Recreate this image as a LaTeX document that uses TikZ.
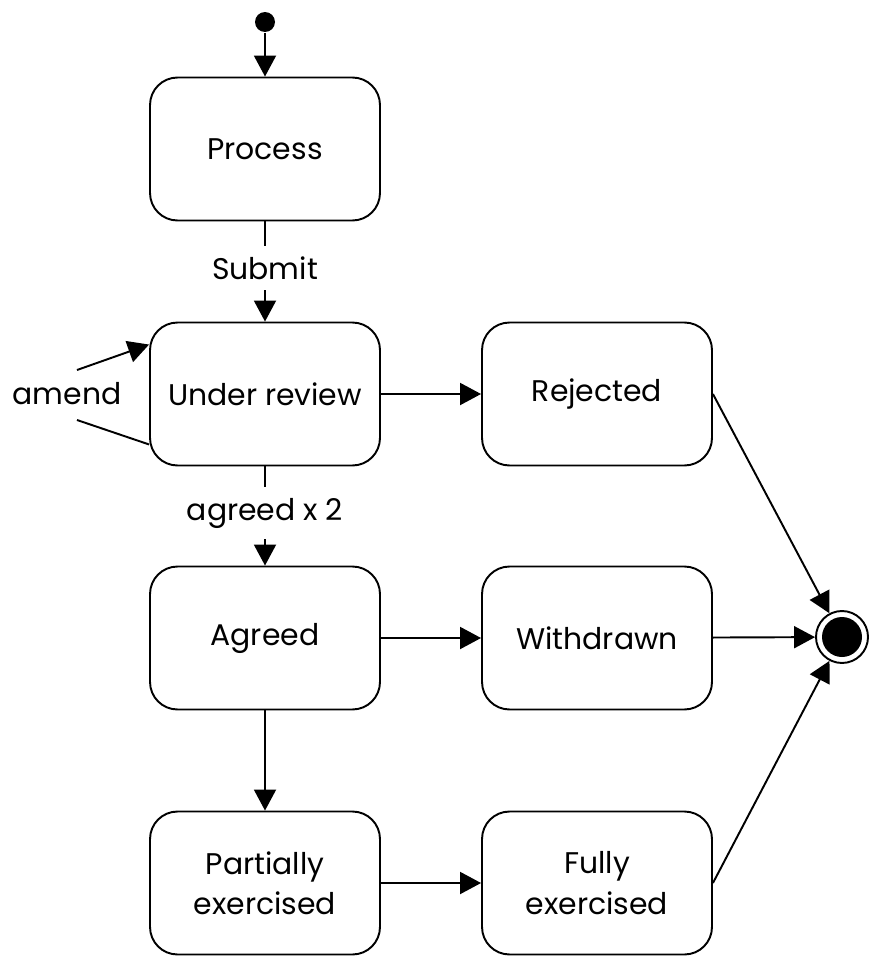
\documentclass[tikz,border=0pt]{standalone}
\usepackage{fontspec}
\setmainfont{Poppins}
\usetikzlibrary{arrows.meta}
\begin{document}
\begin{tikzpicture}[x=0.02cm, y=-0.02cm, >={Triangle[length=4.2mm,width=4.4mm]}, line width=1.1pt,
        state/.style={draw, rounded corners=0.55cm, minimum width=4.6cm, minimum height=2.86cm,
                align=center, font=\fontsize{17}{23}\selectfont},
        lbl/.style={inner sep=0.2cm, font=\fontsize{17}{23}\selectfont},
        dot/.style={circle, fill, inner sep=0pt}]
        \useasboundingbox (0,0) rectangle (885,970);
        \node[dot, minimum size=0.4cm] (start) at (265,22) {};
        \node[state] (proc) at (265,149) {Process};
        \node[state] (review) at (265,394) {Under review};
        \node[state] (rej) at (597,394) {Rejected};
        \node[state] (agr) at (265,638) {Agreed};
        \node[state] (wdr) at (597,638) {Withdrawn};
        \node[state] (part) at (265,883) {Partially\\exercised};
        \node[state] (full) at (597,883) {Fully\\exercised};
        \node[dot, minimum size=0.8cm] (fin) at (842,637) {};
        \node[circle, draw, minimum size=1.04cm, inner sep=0pt] (finring) at (fin) {};
        \node[lbl] (submit) at (265,268) {Submit};
        \node[lbl] (agreed) at (265,513) {agreed x 2};
        \node[lbl, inner sep=0pt] (amend) at (67,394) {amend};
        \coordinate (amA) at (77,370);
        \coordinate (amB) at (77,420);
        \draw[->] (start) -- (proc);
        \draw (proc) -- (submit);
        \draw[->] (submit) -- (review);
        \draw (review) -- (agreed);
        \draw[->] (agreed) -- (agr);
        \draw[->] (amA) -- ([yshift=-0.46cm]review.north west);
        \draw (amB) -- ([yshift=0.44cm]review.south west);
        \draw[->] (review) -- (rej);
        \draw[->] (agr) -- (wdr);
        \draw[->] (agr) -- (part);
        \draw[->] (part) -- (full);
        \draw[->] (rej.east) -- (finring);
        \draw[->] (wdr) -- (finring);
        \draw[->] (full.east) -- (finring);
    \end{tikzpicture}
\end{document}
